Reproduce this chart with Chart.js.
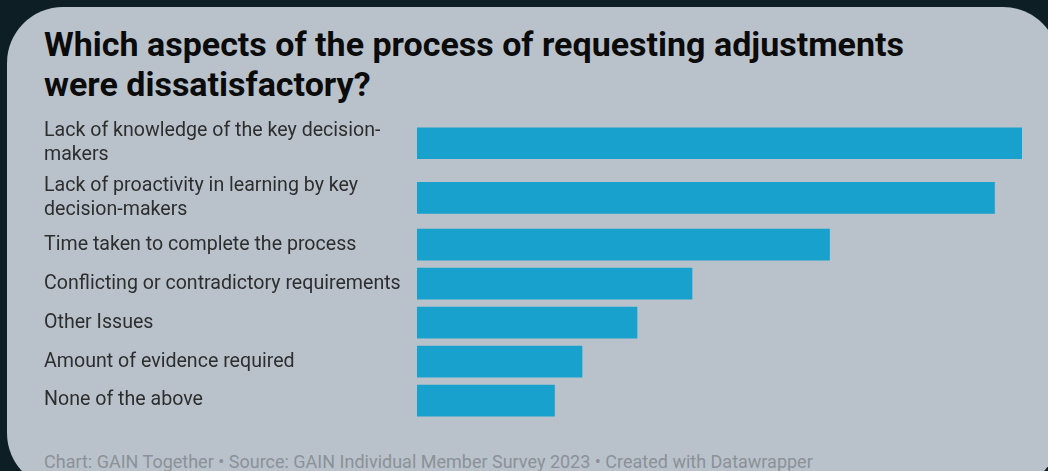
<!DOCTYPE html>
<html>
<head>
<meta charset="utf-8">
<script src="https://cdn.jsdelivr.net/npm/chart.js@4"></script>
<style>
  html, body { margin: 0; padding: 0; }
  body { width: 1048px; height: 471px; background: #0d1f25; overflow: hidden; position: relative; font-family: Roboto, sans-serif; }
  .card { position: absolute; left: 7px; top: 7px; width: 1052px; height: 482px; background: #b9c2cb; border-radius: 56px; overflow: hidden; }
  h1 { position: absolute; left: 37px; top: 17px; margin: 0; width: 1000px; font: 700 34px/40px Roboto, sans-serif; color: #0b0b0b; }
  /* the y axis keeps half a label of room above and below its first/last rows */
  .wrap { position: absolute; left: 37px; top: 97px; width: 978px; height: 340px; }
  .foot { position: absolute; left: 37px; top: 444px; margin: 0; font: 400 18px Roboto, sans-serif; color: #8b9197; white-space: nowrap; }
</style>
</head>
<body>
<div class="card">
  <h1>Which aspects of the process of requesting adjustments<br>were dissatisfactory?</h1>
  <div class="wrap"><canvas id="bar-chart"></canvas></div>
  <p class="foot">Chart: GAIN Together • Source: GAIN Individual Member Survey 2023 • Created with Datawrapper</p>
</div>
<script>
// Survey answers, one bar per category
const categories = [
  ["Lack of knowledge of the key decision-", "makers"],
  ["Lack of proactivity in learning by key", "decision-makers"],
  ["Time taken to complete the process"],
  ["Conflicting or contradictory requirements"],
  ["Other Issues"],
  ["Amount of evidence required"],
  ["None of the above"],
];
const responses = [22, 21, 15, 10, 8, 6, 5];

// rows with wrapped labels get a taller slot
const rowSizes = categories.map((c) => (c.length > 1 ? 1.4 : 1));
const rowCenters = [];
let acc = 0;
rowSizes.forEach((s) => {
  rowCenters.push(acc + s / 2);
  acc += s;
});

const ctx = document.getElementById("bar-chart");

new Chart(ctx, {
  type: "bar",
  data: {
    datasets: [
      {
        data: responses.map((v, i) => ({ x: v, y: rowCenters[i] })),
        backgroundColor: "#18a1cd",
        borderWidth: 0,
        barThickness: 31,
      },
    ],
  },
  options: {
    indexAxis: "y",
    responsive: true,
    maintainAspectRatio: false,
    animation: false,
    layout: { padding: 0, autoPadding: false },
    plugins: { legend: { display: false }, tooltip: { enabled: false } },
    scales: {
      x: { min: 0, max: 22, display: false },
      y: {
        type: "linear",
        reverse: true,
        offset: false,
        min: 0,
        max: acc,
        grid: { display: false, drawTicks: false },
        border: { display: false },
        afterBuildTicks: (scale) => {
          scale.ticks = rowCenters.map((v) => ({ value: v }));
        },
        afterFit: (scale) => {
          scale.width = 373;
        },
        ticks: {
          autoSkip: false,
          padding: 0,
          crossAlign: "far",
          color: "#2e2e2e",
          font: { family: "Roboto", size: 19.6, lineHeight: 1.22 },
          callback: (value) => {
            const i = rowCenters.indexOf(value);
            return i >= 0 ? categories[i] : "";
          },
        },
      },
    },
  },
});
</script>
</body>
</html>
